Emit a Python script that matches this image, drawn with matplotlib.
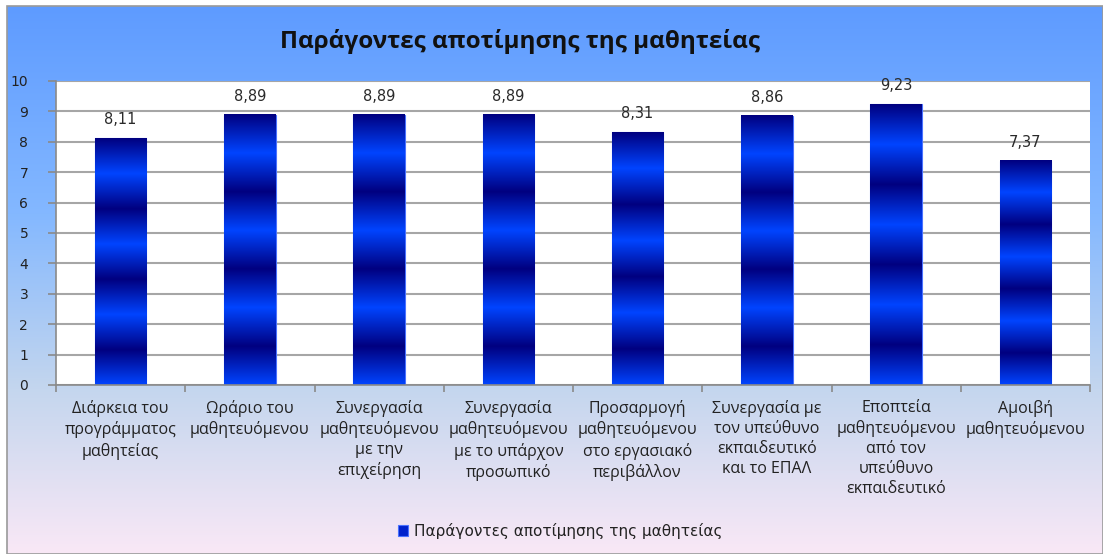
import numpy as np
import matplotlib.pyplot as plt
from matplotlib.colors import LinearSegmentedColormap
from matplotlib.patches import Rectangle

# DATA

categories = [
    "Διάρκεια του\nπρογράμματος\nμαθητείας",
    "Ωράριο του\nμαθητευόμενου",
    "Συνεργασία\nμαθητευόμενου\nμε την\nεπιχείρηση",
    "Συνεργασία\nμαθητευόμενου\nμε το υπάρχον\nπροσωπικό",
    "Προσαρμογή\nμαθητευόμενου\nστο εργασιακό\nπεριβάλλον",
    "Συνεργασία με\nτον υπεύθυνο\nεκπαιδευτικό\nκαι το ΕΠΑΛ",
    "Εποπτεία\nμαθητευόμενου\nαπό τον\nυπεύθυνο\nεκπαιδευτικό",
    "Αμοιβή\nμαθητευόμενου",
]
scores = [8.11, 8.89, 8.89, 8.89, 8.31, 8.86, 9.23, 7.37]
series_name = "Παράγοντες αποτίμησης της μαθητείας"
y_ticks = list(range(0, 11))

TEXT_FONT = ["Open Sans", "DejaVu Sans"]
NUM_FONT = ["DejaVu Sans"]

# FIGURE + BACKGROUND

fig = plt.figure(figsize=(11.03, 5.54), dpi=100)
fig.patch.set_facecolor("white")

bg_ax = fig.add_axes([0, 0, 1, 1], zorder=-10)
bg_ax.set_xlim(0, 1)
bg_ax.set_ylim(0, 1)
bg_ax.axis("off")
bg_cmap = LinearSegmentedColormap.from_list(
    "chart_bg",
    [(0.0, "#f9e8f6"), (0.30, "#c4d6ee"), (0.62, "#84b8ff"), (1.0, "#5e9bff")],
)
bg = np.linspace(0, 1, 256).reshape(-1, 1)
box_left, box_bottom, box_right, box_top = 7 / 1103, 0.0, 1.0, 1 - 6 / 554
bg_ax.imshow(bg, cmap=bg_cmap, origin="lower", aspect="auto",
             extent=[box_left, box_right, box_bottom, box_top])
bg_ax.add_patch(Rectangle((box_left, box_bottom), box_right - box_left, box_top - box_bottom,
                          fill=False, edgecolor="#9a9a9a", linewidth=1.2))

fig.text(0.471, 1 - 42 / 554, series_name, ha="center", va="center",
         fontsize=17.5, fontweight="bold", family=TEXT_FONT, color="#111111")

# PLOT AREA

ax = fig.add_axes([56 / 1103, 1 - 385 / 554, (1090 - 56) / 1103, (385 - 81) / 554])
ax.set_facecolor("white")

x = np.arange(len(scores))
bars = ax.bar(x, scores, width=0.4, color="#0022cc", edgecolor="#4a72ff",
              linewidth=0.8, label=series_name, zorder=2)

# banded blue fill: bright at the base, dark at the top, 3.5 cycles per bar
bar_cmap = LinearSegmentedColormap.from_list("bar_band", ["#000080", "#0044ff"])
t = np.linspace(0, 1, 600)
phase = (3.5 * t) % 1.0
band = (1 - 2 * np.minimum(phase, 1 - phase)).reshape(-1, 1)
for rect in bars:
    bx, bw, bh = rect.get_x(), rect.get_width(), rect.get_height()
    ax.imshow(band, cmap=bar_cmap, origin="lower", aspect="auto",
              extent=[bx, bx + bw, 0, bh], zorder=2.5, interpolation="bilinear")

for rect, val in zip(bars, scores):
    ax.annotate(f"{val:.2f}".replace(".", ","),
                (rect.get_x() + rect.get_width() / 2, val),
                xytext=(0, 8), textcoords="offset points",
                ha="center", va="bottom", fontsize=10.5, family=NUM_FONT,
                color="#2a2a2a", zorder=4)

ax.set_xlim(-0.5, len(scores) - 0.5)
ax.set_ylim(0, 10)
ax.set_yticks(y_ticks)
ax.set_yticklabels([str(v) for v in y_ticks], family=NUM_FONT, fontsize=10, color="#222222")
ax.yaxis.grid(True, color="#a6a6a6", linewidth=1.5, zorder=0)
ax.set_axisbelow(True)

ax.set_xticks(x)
ax.set_xticklabels(categories, family=TEXT_FONT, fontsize=11.5, color="#222222",
                   linespacing=1.32)
ax.set_xticks(np.arange(-0.5, len(scores) + 0.5, 1), minor=True)
ax.tick_params(axis="x", which="major", length=0, pad=11)
ax.tick_params(axis="x", which="minor", length=5, color="#8a8a8a", width=1.2)
ax.tick_params(axis="y", length=6, color="#8a8a8a", width=1.2, pad=14)

for side in ("top", "right"):
    ax.spines[side].set_visible(False)
for side in ("left", "bottom"):
    ax.spines[side].set_color("#8a8a8a")
    ax.spines[side].set_linewidth(1.2)

leg = fig.legend(handles=[bars], labels=[series_name], loc="center",
                 bbox_to_anchor=(0.508, 1 - 531 / 554), frameon=False,
                 handlelength=0.7, handleheight=0.7, handletextpad=0.4,
                 prop={"family": NUM_FONT, "size": 11})
for txt in leg.get_texts():
    txt.set_color("#222222")

plt.savefig("out.png", dpi=100)
plt.close()
